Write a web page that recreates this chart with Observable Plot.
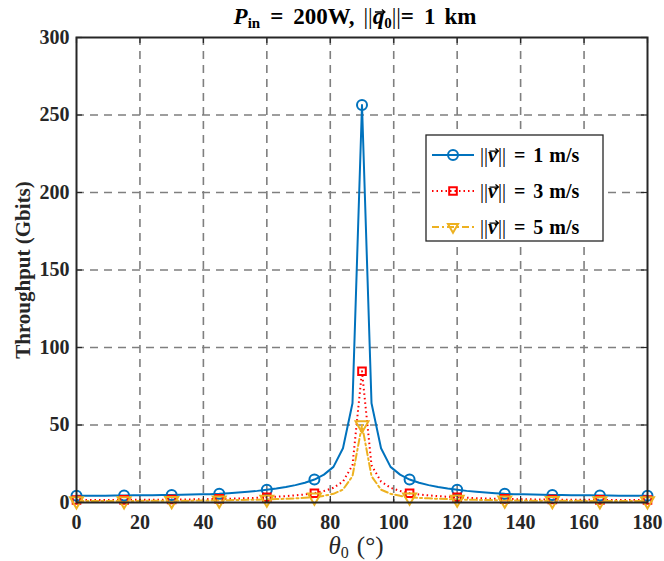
<!DOCTYPE html>
<html><head><meta charset="utf-8">
<script src="https://cdn.jsdelivr.net/npm/d3@7"></script>
<script src="https://cdn.jsdelivr.net/npm/@observablehq/plot@0.6"></script>
<style>
body{margin:0;background:#fff}
#chart svg{font-family:"Liberation Serif","Times New Roman",serif;background:#fff;display:block}
</style>
</head><body><div id="chart"></div>
<script>
const angles = [0,3,6,9,12,15,18,21,24,27,30,33,36,39,42,45,48,51,54,57,60,63,66,69,72,75,78,81,84,87,90,
  93,96,99,102,105,108,111,114,117,120,123,126,129,132,135,138,141,144,147,150,153,156,159,162,165,168,171,174,177,180];
const v1 = [4.4,4.4,4.4,4.4,4.5,4.5,4.6,4.6,4.7,4.8,4.9,5.0,5.1,5.3,5.4,5.6,6.0,6.4,6.9,7.5,8.3,9.0,10.0,11.2,12.7,14.8,18.0,23.0,35.0,64.0,256.5,
  64.0,35.0,23.0,18.0,14.8,12.7,11.2,10.0,9.0,8.3,7.5,6.9,6.4,6.0,5.6,5.4,5.3,5.1,5.0,4.9,4.8,4.7,4.6,4.6,4.5,4.5,4.4,4.4,4.4,4.4];
const v3 = [1.6,1.6,1.6,1.6,1.6,1.7,1.7,1.7,1.8,1.8,1.9,1.9,2.0,2.1,2.2,2.3,2.4,2.6,2.8,3.1,3.4,3.7,4.1,4.6,5.2,6.0,7.4,9.5,13.5,24.0,84.7,
  24.0,13.5,9.5,7.4,6.0,5.2,4.6,4.1,3.7,3.4,3.1,2.8,2.6,2.4,2.3,2.2,2.1,2.0,1.9,1.9,1.8,1.8,1.7,1.7,1.7,1.6,1.6,1.6,1.6,1.6];
const v5 = [1.0,1.0,1.0,1.0,1.0,1.0,1.0,1.1,1.1,1.1,1.1,1.2,1.2,1.3,1.3,1.4,1.5,1.6,1.7,1.8,2.0,2.2,2.4,2.7,3.0,3.4,4.3,5.6,8.3,17.0,50.0,
  17.0,8.3,5.6,4.3,3.4,3.0,2.7,2.4,2.2,2.0,1.8,1.7,1.6,1.5,1.4,1.3,1.3,1.2,1.2,1.1,1.1,1.1,1.1,1.0,1.0,1.0,1.0,1.0,1.0,1.0];
const markerAngles = [0,15,30,45,60,75,90,105,120,135,150,165,180];
const xTicks = [0,20,40,60,80,100,120,140,160,180];
const yTicks = [0,50,100,150,200,250,300];
const xGrid = [20,40,60,80,100,120,140,160];
const yGrid = [50,100,150,200,250];
const seriesNames = ["1","3","5"];
const colors = ["#0072BD","#FF0000","#EDB120"];

const rows = [];
angles.forEach((a,i)=>{
  rows.push({a, v:v1[i], s:"1"});
  rows.push({a, v:v3[i], s:"3"});
  rows.push({a, v:v5[i], s:"5"});
});
const marks = rows.filter(d=>markerAngles.includes(d.a));
const axisColor = "#262626";
const gridStyle = {stroke:"#7f7f7f", strokeWidth:1.6, strokeDasharray:"8,6"};
const W = 664, H = 561, mL = 76, mR = 17, mT = 37, mB = 59;
const innerW = W-mL-mR, innerH = H-mT-mB;

const plot = Plot.plot({
  width: W, height: H,
  marginLeft: mL, marginRight: mR, marginTop: mT, marginBottom: mB,
  x: {domain:[0,180]},
  y: {domain:[0,300]},
  marks: [
    Plot.ruleX(xGrid, gridStyle),
    Plot.ruleY(yGrid, gridStyle),
    Plot.line(rows.filter(d=>d.s==="1"), {x:"a", y:"v", stroke:colors[0], strokeWidth:2}),
    Plot.line(rows.filter(d=>d.s==="3"), {x:"a", y:"v", stroke:colors[1], strokeWidth:2, strokeDasharray:"1.5,3", strokeLinecap:"butt"}),
    Plot.line(rows.filter(d=>d.s==="5"), {x:"a", y:"v", stroke:colors[2], strokeWidth:2, strokeDasharray:"7,3,2,3"}),
    Plot.dot(marks.filter(d=>d.s==="1"), {x:"a", y:"v", symbol:"circle", r:5, stroke:colors[0], strokeWidth:2, fill:"none"}),
    Plot.dot(marks.filter(d=>d.s==="3"), {x:"a", y:"v", symbol:"square", r:4.3, stroke:colors[1], strokeWidth:2, fill:"none"}),
    Plot.dot(marks.filter(d=>d.s==="5"), {x:"a", y:"v", symbol:"triangle", r:4.8, rotate:180, stroke:colors[2], strokeWidth:2, fill:"none"}),
    Plot.tickX(xTicks, {stroke:axisColor, strokeWidth:1.2, insetTop: innerH-6}),
    Plot.tickX(xTicks, {stroke:axisColor, strokeWidth:1.2, insetBottom: innerH-6}),
    Plot.tickY(yTicks, {stroke:axisColor, strokeWidth:1.2, insetRight: innerW-6}),
    Plot.tickY(yTicks, {stroke:axisColor, strokeWidth:1.2, insetLeft: innerW-6}),
    Plot.frame({stroke:axisColor, strokeWidth:2}),
    Plot.axisX(xTicks, {tickSize:0, tickPadding:12, fontSize:20, fontWeight:"bold", label:null, color:axisColor}),
    Plot.axisY(yTicks, {tickSize:0, tickPadding:7, fontSize:20, fontWeight:"bold", label:null, color:axisColor})
  ]
});
document.getElementById("chart").appendChild(plot);
const svg = d3.select(plot);

// draw a small vector arrow above a given character of a text element
function arrowOver(textSel, charIndex, size) {
  const node = textSel.node();
  const r = node.getExtentOfChar(charIndex);
  const cx = r.x + r.width/2 + 1.5, top = r.y + r.height*0.32;
  const g = d3.select(node.parentNode);
  const w = size;
  g.append("path")
    .attr("d", `M${cx-w/2},${top} L${cx+w/2},${top} M${cx+w/2-3},${top-2.5} L${cx+w/2},${top} L${cx+w/2-3},${top+2.5}`)
    .attr("fill","none").attr("stroke", textSel.attr("fill") || "#000").attr("stroke-width",1.3);
}

// Title
const title = svg.append("text").attr("x", 355).attr("y", 24).attr("text-anchor","middle")
  .attr("font-size", 23).attr("font-weight","bold").attr("fill","#000");
title.append("tspan").attr("font-style","italic").text("P");
title.append("tspan").attr("font-size",15).attr("dy",4).text("in");
title.append("tspan").attr("dy",-4).attr("dx",10).text("=");
title.append("tspan").attr("dx",10).text("200W,");
title.append("tspan").attr("dx",9).attr("font-weight","normal").text("||");
title.append("tspan").attr("font-style","italic").text("q");
title.append("tspan").attr("font-size",15).attr("dy",4).text("0");
title.append("tspan").attr("dy",-4).attr("font-weight","normal").text("||");
title.append("tspan").text("=");
title.append("tspan").attr("dx",10).text("1");
title.append("tspan").attr("dx",9).text("km");
{
  const txt = title.node().textContent;
  arrowOver(title, txt.indexOf("q"), 10);
}

// Y label
svg.append("text").attr("transform","translate(30,270) rotate(-90)").attr("text-anchor","middle")
  .attr("font-size",21).attr("font-weight","bold").attr("fill",axisColor).text("Throughput (Gbits)");

// X label
const xl = svg.append("text").attr("x", 356).attr("y", 554).attr("text-anchor","middle")
  .attr("font-size",25).attr("fill",axisColor);
xl.append("tspan").attr("font-style","italic").text("θ");
xl.append("tspan").attr("font-size",16).attr("dy",4).text("0");
xl.append("tspan").attr("dy",-4).attr("dx",8).text("(°)");

// Legend
const lg = svg.append("g");
lg.append("rect").attr("x",426).attr("y",135).attr("width",177).attr("height",106)
  .attr("fill","#fff").attr("stroke",axisColor).attr("stroke-width",1.3);
const legendSym = [d3.symbolCircle, d3.symbolSquare, d3.symbolTriangle2];
const legendR = [5, 4.3, 4.8];
const legendDash = [null, "1.5,3", "7,3,2,3"];
seriesNames.forEach((s,i)=>{
  const y = 155 + i*36;
  lg.append("line").attr("x1",432).attr("x2",474).attr("y1",y).attr("y2",y)
    .attr("stroke",colors[i]).attr("stroke-width",2).attr("stroke-dasharray",legendDash[i]);
  lg.append("path").attr("d", d3.symbol(legendSym[i], Math.PI*legendR[i]*legendR[i])())
    .attr("transform", `translate(453,${y})` + (i===2?" rotate(180)":""))
    .attr("fill","none").attr("stroke",colors[i]).attr("stroke-width",2);
  const t = lg.append("text").attr("x",480).attr("y",y+7).attr("text-anchor","start")
    .attr("font-size",20).attr("font-weight","bold").attr("fill","#000");
  t.append("tspan").attr("font-weight","normal").text("||");
  t.append("tspan").attr("font-style","italic").text("v");
  t.append("tspan").attr("font-weight","normal").attr("dx",1).text("||");
  t.append("tspan").attr("dx",8).text("=");
  t.append("tspan").attr("dx",8).text(s);
  t.append("tspan").attr("dx",6).text("m/s");
  arrowOver(t, 2, 9);
});
</script>
</body></html>
